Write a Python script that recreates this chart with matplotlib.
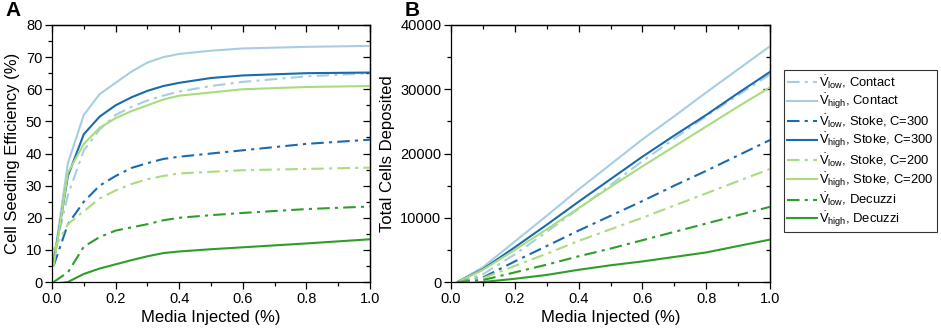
import matplotlib
matplotlib.use("Agg")
import matplotlib.pyplot as plt
from matplotlib.ticker import MultipleLocator

plt.rcParams['font.family'] = ['Liberation Sans', 'DejaVu Sans']
plt.rcParams['mathtext.fontset'] = 'custom'
plt.rcParams['mathtext.rm'] = 'Liberation Sans'
plt.rcParams['mathtext.it'] = 'Liberation Sans'

# ---- colours / labels ----
c_lb = '#a6cee3'
c_db = '#1a6aae'
c_lg = '#a8dc7e'
c_dg = '#2e9e2a'

labels = [r'$\dot{\mathrm{V}}_{\mathrm{low}}$, Contact',
          r'$\dot{\mathrm{V}}_{\mathrm{high}}$, Contact',
          r'$\dot{\mathrm{V}}_{\mathrm{low}}$, Stoke, C=300',
          r'$\dot{\mathrm{V}}_{\mathrm{high}}$, Stoke, C=300',
          r'$\dot{\mathrm{V}}_{\mathrm{low}}$, Stoke, C=200',
          r'$\dot{\mathrm{V}}_{\mathrm{high}}$, Stoke, C=200',
          r'$\dot{\mathrm{V}}_{\mathrm{low}}$, Decuzzi',
          r'$\dot{\mathrm{V}}_{\mathrm{high}}$, Decuzzi']
colors = [c_lb, c_lb, c_db, c_db, c_lg, c_lg, c_dg, c_dg]
styles = ['low', 'high'] * 4

# ---- Panel A data (Cell seeding efficiency, %) ----
xa = [0.005, 0.05, 0.1, 0.15, 0.2, 0.25, 0.3, 0.35, 0.4, 0.5, 0.6, 0.8, 1.0]
a_low_contact  = [8, 27, 41, 47.5, 52, 54.5, 56.5, 58, 59.3, 61, 62.3, 64, 65]
a_high_contact = [6, 37, 52, 58.5, 62, 65.5, 68.3, 70, 71, 72, 72.7, 73.2, 73.5]
a_low_s300     = [5, 18, 25, 30, 33, 35.5, 37, 38.3, 39, 40, 41, 43, 44.3]
a_high_s300    = [6, 33, 46, 51.5, 55, 57.5, 59.5, 61, 62, 63.5, 64.3, 65, 65.2]
a_low_s200     = [10, 18, 22, 26, 28.5, 30.5, 32, 33, 33.8, 34.3, 34.8, 35.2, 35.6]
a_high_s200    = [5, 34, 43, 48, 51, 53.2, 55, 56.8, 58, 59, 60, 60.7, 61]
a_low_dec      = [0, 3, 11, 14, 16, 17, 18, 19.2, 20, 20.8, 21.5, 22.7, 23.5]
a_high_dec     = [-0.6, 0, 2.5, 4.2, 5.5, 6.8, 8, 9, 9.5, 10.2, 10.8, 12, 13.3]
series_a = [a_low_contact, a_high_contact, a_low_s300, a_high_s300,
            a_low_s200, a_high_s200, a_low_dec, a_high_dec]

# ---- Panel B data (Total cells deposited) ----
xb = [0.02, 0.1, 0.2, 0.3, 0.4, 0.5, 0.6, 0.7, 0.8, 0.9, 1.0]
b_low_contact  = [0, 1200, 4300, 7800, 11400, 15100, 18800, 22300, 25800, 29100, 32300]
b_high_contact = [0, 2300, 6300, 10300, 14400, 18300, 22200, 25800, 29500, 33100, 36700]
b_low_s300     = [0, 700, 3200, 5600, 8000, 10300, 12600, 15000, 17300, 19700, 22100]
b_high_s300    = [0, 2000, 5400, 8900, 12500, 16000, 19500, 22800, 26000, 29400, 32700]
b_low_s200     = [0, 600, 2500, 4400, 6400, 8200, 10000, 11900, 13800, 15700, 17600]
b_high_s200    = [0, 1900, 5000, 8200, 11500, 14800, 18000, 21100, 24200, 27300, 30300]
b_low_dec      = [0, 300, 1500, 2700, 4000, 5200, 6500, 7800, 9100, 10400, 11700]
b_high_dec     = [-300, 0, 500, 1100, 1900, 2600, 3200, 3900, 4600, 5600, 6600]
series_b = [b_low_contact, b_high_contact, b_low_s300, b_high_s300,
            b_low_s200, b_high_s200, b_low_dec, b_high_dec]

dashdot = (0, (6, 2.5, 1.5, 2.5))

fig = plt.figure(figsize=(9.41, 3.28), dpi=100)
axA = fig.add_axes([52/941, 46/328, 318/941, 257/328])
axB = fig.add_axes([451/941, 46/328, 319/941, 257/328])


def style_axes(ax, ymaj, ymin):
    ax.set_xlim(0, 1.0)
    ax.xaxis.set_major_locator(MultipleLocator(0.2))
    ax.xaxis.set_minor_locator(MultipleLocator(0.1))
    ax.yaxis.set_major_locator(MultipleLocator(ymaj))
    ax.yaxis.set_minor_locator(MultipleLocator(ymin))
    ax.tick_params(which='major', direction='out', length=5, width=0.9, labelsize=10.5, pad=2)
    ax.tick_params(which='minor', direction='out', length=3, width=0.9)
    for s in ax.spines.values():
        s.set_linewidth(0.9)
    ax.xaxis.set_major_formatter(matplotlib.ticker.FormatStrFormatter('%.1f'))
    top = ax.secondary_xaxis('top')
    top.xaxis.set_major_locator(MultipleLocator(0.2))
    top.xaxis.set_minor_locator(MultipleLocator(0.1))
    top.tick_params(which='major', direction='in', length=5, width=0.9, labeltop=False)
    top.tick_params(which='minor', direction='in', length=3, width=0.9)
    top.spines['top'].set_linewidth(0.9)
    right = ax.secondary_yaxis('right')
    right.yaxis.set_major_locator(MultipleLocator(ymaj))
    right.yaxis.set_minor_locator(MultipleLocator(ymin))
    right.tick_params(which='major', direction='in', length=5, width=0.9, labelright=False)
    right.tick_params(which='minor', direction='in', length=3, width=0.9)
    right.spines['right'].set_linewidth(0.9)
    ax.set_xlabel('Media Injected (%)', fontsize=12, labelpad=3)


handles = []
for ys, c, st, lab in zip(series_a, colors, styles, labels):
    ls = dashdot if st == 'low' else '-'
    h, = axA.plot(xa, ys, color=c, lw=1.5, ls=ls, label=lab)
    handles.append(h)
for ys, c, st in zip(series_b, colors, styles):
    ls = dashdot if st == 'low' else '-'
    axB.plot(xb, ys, color=c, lw=1.5, ls=ls)

axA.set_ylim(0, 80)
style_axes(axA, 10, 5)
axA.set_ylabel('Cell Seeding Efficiency (%)', fontsize=12, labelpad=4)

axB.set_ylim(0, 40000)
style_axes(axB, 10000, 5000)
axB.set_ylabel('Total Cells Deposited', fontsize=12, labelpad=4)

fig.text(5/941, 1 - 1/328, 'A', fontsize=15, fontweight='bold', va='top', ha='left')
fig.text(405/941, 1 - 1/328, 'B', fontsize=15, fontweight='bold', va='top', ha='left')

leg = fig.legend(handles=handles, loc='upper left', bbox_to_anchor=(784/941, 1 - 70/328),
                 fontsize=9.4, frameon=True, fancybox=False, edgecolor='black',
                 handlelength=2.3, handletextpad=0.15, labelspacing=0.08,
                 borderpad=0.25, borderaxespad=0)
leg.get_frame().set_linewidth(0.8)

fig.savefig('out.png', dpi=100)
